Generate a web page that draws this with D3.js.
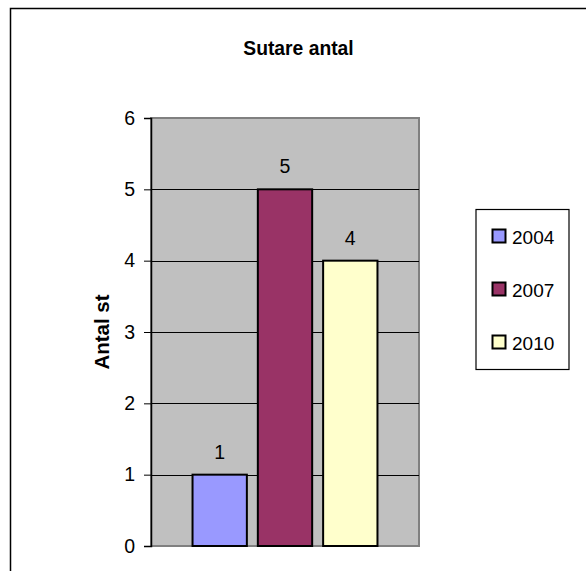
<!DOCTYPE html>
<html><head><meta charset="utf-8">
<script src="https://cdn.jsdelivr.net/npm/d3@7"></script>
<style>html,body{margin:0;padding:0;background:#fff;}svg{display:block;}</style>
</head><body>
<script>
const series = ["2004", "2007", "2010"];
const values = [1, 5, 4];
const colors = ["#9999ff", "#993366", "#ffffcc"];
const yTicks = [0, 1, 2, 3, 4, 5, 6];
const title = "Sutare antal";
const yTitle = "Antal st";

const W = 586, H = 571;
const svg = d3.select("body").append("svg").attr("width", W).attr("height", H);
const font = "Arial, 'Liberation Sans', sans-serif";

// outer chart border (extends beyond right/bottom)
svg.append("rect").attr("x", 10.5).attr("y", 8.5).attr("width", 600).attr("height", 600)
  .attr("fill", "#fff").attr("stroke", "#000").attr("stroke-width", 1.5);

const plot = {l: 151, t: 118, r: 419, b: 546};
const y = d3.scaleLinear().domain([0, 6]).range([plot.b, plot.t]);
const x = d3.scaleBand().domain(series).range([plot.l, plot.r]).paddingInner(0.168).paddingOuter(0.636);

svg.append("text").attr("x", 298.5).attr("y", 55).attr("text-anchor", "middle")
  .attr("font-family", font).attr("font-weight", "bold").attr("font-size", 19.3).text(title);

svg.append("rect").attr("x", plot.l).attr("y", plot.t).attr("width", plot.r - plot.l).attr("height", plot.b - plot.t)
  .attr("fill", "#c0c0c0").attr("stroke", "#808080").attr("stroke-width", 2);

// gridlines
svg.append("g").selectAll("line").data(yTicks.filter(d => d > 0 && d < 6)).join("line")
  .attr("x1", plot.l).attr("x2", plot.r).attr("y1", d => Math.round(y(d)) + 0.5).attr("y2", d => Math.round(y(d)) + 0.5)
  .attr("stroke", "#000").attr("stroke-width", 1);

// y axis
const yAxis = d3.axisLeft(y).tickValues(yTicks).tickSize(7).tickPadding(9).tickFormat(d3.format("d"));
const ga = svg.append("g").attr("transform", `translate(${plot.l},0)`).call(yAxis);
ga.select(".domain").attr("stroke", "#000").attr("stroke-width", 1.5);
ga.selectAll(".tick line").attr("stroke", "#000");
ga.selectAll(".tick text").attr("font-family", font).attr("font-size", 19.5).attr("fill", "#000");

svg.append("text").attr("transform", `translate(109,332) rotate(-90)`).attr("text-anchor", "middle")
  .attr("font-family", font).attr("font-weight", "bold").attr("font-size", 20.5).text(yTitle);

// bars
const data = series.map((s, i) => ({s, v: values[i], c: colors[i]}));
svg.append("g").selectAll("rect").data(data).join("rect")
  .attr("x", d => x(d.s)).attr("y", d => y(d.v)).attr("width", x.bandwidth()).attr("height", d => y(0) - y(d.v))
  .attr("fill", d => d.c).attr("stroke", "#000").attr("stroke-width", 2);

svg.append("g").selectAll("text").data(data).join("text")
  .attr("x", d => x(d.s) + x.bandwidth() / 2).attr("y", d => y(d.v) - 16)
  .attr("text-anchor", "middle").attr("font-family", font).attr("font-size", 19.5).text(d => d.v);

// legend
const lg = svg.append("g");
lg.append("rect").attr("x", 476).attr("y", 209.5).attr("width", 93).attr("height", 160)
  .attr("fill", "#fff").attr("stroke", "#000").attr("stroke-width", 1.2);
const items = lg.selectAll("g").data(data).join("g")
  .attr("transform", (d, i) => `translate(0,${236.5 + i * 53})`);
items.append("rect").attr("x", 492.5).attr("y", -7).attr("width", 13).attr("height", 13)
  .attr("fill", d => d.c).attr("stroke", "#000").attr("stroke-width", 2);
items.append("text").attr("x", 512).attr("y", 7).attr("font-family", font).attr("font-size", 19).text(d => d.s);
</script>
</body></html>
